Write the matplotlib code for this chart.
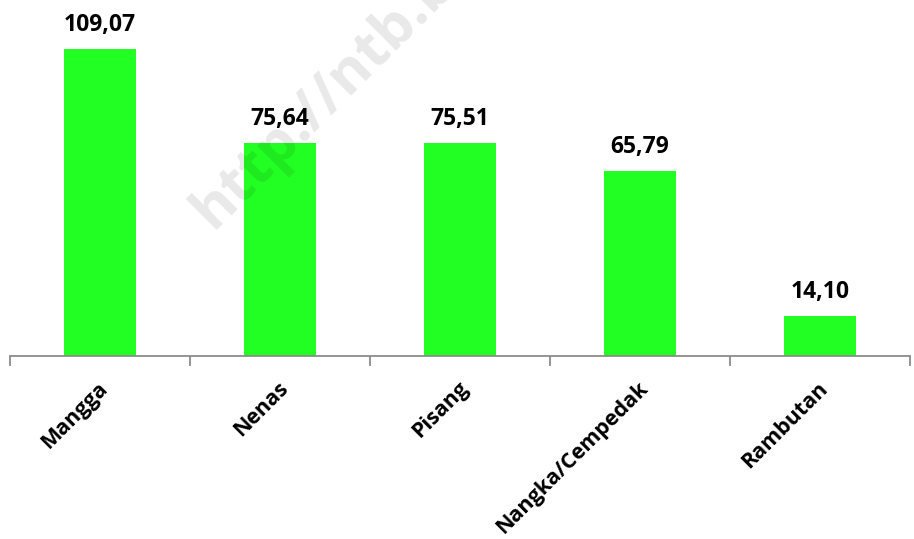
import matplotlib
matplotlib.use('Agg')
import matplotlib.pyplot as plt
import matplotlib.transforms as mtransforms
import numpy as np

categories = ['Mangga', 'Nenas', 'Pisang', 'Nangka/Cempedak', 'Rambutan']
values = [109.07, 75.64, 75.51, 65.79, 14.10]

plt.rcParams['font.family'] = ['Open Sans', 'DejaVu Sans']

fig = plt.figure(figsize=(9.14, 5.39), dpi=100)
ax = fig.add_axes([10/914, 183/539, 900/914, 356/539])

x = np.arange(len(categories))
ax.bar(x, values, width=0.4, color='#22ff22', zorder=2)

for xi, v in zip(x, values):
    lbl = f'{v:.2f}'.replace('.', ',')
    ax.annotate(lbl, (xi, v), xytext=(0, 13), textcoords='offset points',
                ha='center', va='baseline', fontsize=16.5, fontweight='bold',
                color='black', zorder=3)

ax.set_xlim(-0.5, len(categories) - 0.5)
ax.set_ylim(0, 126.5)

for s in ['top', 'right', 'left']:
    ax.spines[s].set_visible(False)
ax.spines['bottom'].set_color('#8c8c8c')
ax.spines['bottom'].set_linewidth(1.3)
ax.set_yticks([])

ax.set_xticks(x)
ax.set_xticklabels(categories, rotation=45, ha='right', va='center',
                   rotation_mode='anchor', fontsize=15.5, fontweight='bold')
ax.tick_params(axis='x', which='major', length=0, pad=21)
ax.set_xticks(np.arange(-0.5, len(categories)), minor=True)
ax.tick_params(axis='x', which='minor', length=7, width=1.3, color='#8c8c8c', direction='out')

offset = mtransforms.ScaledTranslation(5/100, 0, fig.dpi_scale_trans)
for lab in ax.get_xticklabels():
    lab.set_transform(lab.get_transform() + offset)

# faint see-through watermark over the chart
fig.text(213/914, 1-230/539, 'http://ntb.bps.go.id', fontsize=42, fontweight='bold',
         color='black', alpha=0.09, rotation=45, rotation_mode='anchor',
         ha='left', va='baseline')

fig.savefig('out.png', dpi=100)
